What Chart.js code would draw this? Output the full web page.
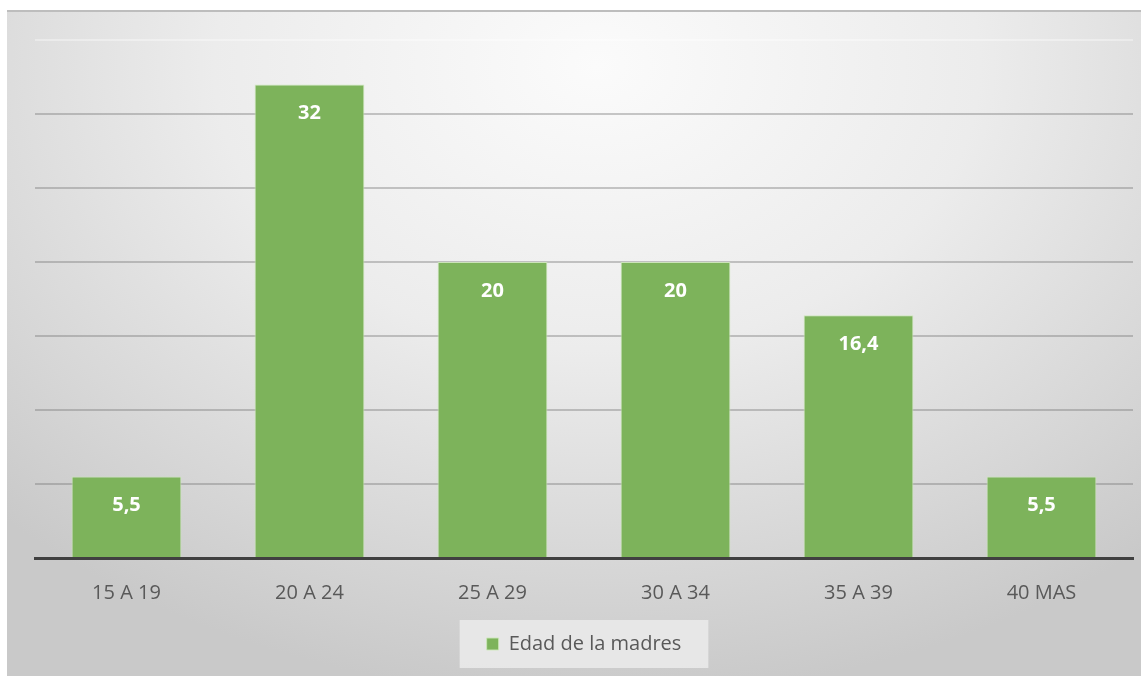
<!DOCTYPE html>
<html>
<head>
<meta charset="utf-8">
<script src="https://cdn.jsdelivr.net/npm/chart.js@4.4.1/dist/chart.umd.min.js"></script>
<style>
  html, body { margin: 0; padding: 0; background: #ffffff; }
  #panel {
    position: absolute; left: 7px; top: 10px; width: 1134px; height: 666px;
    border-top: 2px solid #bdbdbd;
    background: radial-gradient(ellipse 75% 95% at 52% 8%, #fbfbfb 0%, #ececec 45%, #d6d6d6 80%, #c9c9c9 100%);
  }
  #wrap { position: absolute; left: 0; top: 0; width: 1146px; height: 676px; }
</style>
</head>
<body>
<div id="panel"></div>
<div id="wrap"><canvas id="edades"></canvas></div>
<script>
const grupos = ['15 A 19', '20 A 24', '25 A 29', '30 A 34', '35 A 39', '40 MAS'];
const porcentajes = [5.5, 32, 20, 20, 16.4, 5.5];
const serie = 'Edad de la madres';

/* --------------- Value labels inside each bar --------------------- */
const etiquetas = {
  id: 'etiquetas',
  afterDatasetsDraw(chart) {
    const ctx = chart.ctx;
    ctx.save();
    ctx.fillStyle = '#ffffff';
    ctx.font = 'bold 20px "Open Sans", sans-serif';
    ctx.textAlign = 'center';
    ctx.textBaseline = 'middle';
    chart.getDatasetMeta(0).data.forEach((bar, i) => {
      const txt = String(porcentajes[i]).replace('.', ',');
      ctx.fillText(txt, bar.x, bar.y + 29);
    });
    ctx.restore();
  }
};

/* --------------- Light box behind the legend --------------------- */
const fondoLeyenda = {
  id: 'fondoLeyenda',
  beforeDraw(chart) {
    const lg = chart.legend;
    if (!lg || !lg.legendHitBoxes.length) return;
    const hb = lg.legendHitBoxes[0];
    const ctx = chart.ctx;
    ctx.save();
    ctx.fillStyle = 'rgba(235,235,235,0.85)';
    ctx.fillRect(hb.left - 27, hb.top + hb.height / 2 - 24, hb.width + 54, 48);
    ctx.restore();
  }
};

new Chart(document.getElementById('edades'), {
  type: 'bar',
  plugins: [etiquetas, fondoLeyenda],
  data: {
    labels: grupos,
    datasets: [{
      label: serie,
      data: porcentajes,
      backgroundColor: '#7db35b',
      borderColor: 'rgba(205,232,185,0.9)',
      borderWidth: 1,
      barPercentage: 0.6,
      categoryPercentage: 1
    }]
  },
  options: {
    responsive: true,
    maintainAspectRatio: false,
    animation: false,
    layout: { padding: { left: 35, right: 13, top: 40, bottom: 12 } },
    scales: {
      x: {
        grid: { display: false, drawTicks: false },
        border: { display: true, color: '#404040', width: 3 },
        ticks: { color: '#595959', font: { size: 20, family: '"Open Sans", sans-serif' }, padding: 23 }
      },
      y: {
        min: 0,
        max: 35,
        ticks: { display: false, stepSize: 5 },
        border: { display: false },
        grid: {
          drawTicks: false,
          lineWidth: 2,
          color: (c) => c.tick && c.tick.value === 35 ? 'rgba(255,255,255,0.35)' : 'rgba(120,120,120,0.4)'
        }
      }
    },
    plugins: {
      tooltip: { enabled: false },
      legend: {
        position: 'bottom',
        labels: {
          color: '#595959',
          boxWidth: 12,
          boxHeight: 12,
          padding: 6,
          font: { size: 20, family: '"Open Sans", sans-serif' }
        }
      }
    }
  }
});
</script>
</body>
</html>
